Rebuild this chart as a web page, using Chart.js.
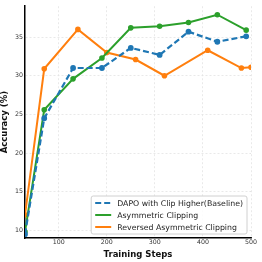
<!DOCTYPE html>
<html>
<head>
<meta charset="utf-8">
<script src="https://cdn.jsdelivr.net/npm/chart.js@4"></script>
<style>
  html, body { margin: 0; padding: 0; background: #fff; }
  #wrap { width: 262px; height: 262px; }
</style>
</head>
<body>
<div id="wrap"><canvas id="accChart" width="262" height="262"></canvas></div>
<script>
  // values
  const steps = [30, 70, 130, 190, 250, 310, 370, 430, 490];
  const baselineAcc = [9.5, 24.5, 31.0, 31.0, 33.6, 32.7, 35.7, 34.4, 35.1];
  const asymAcc = [9.8, 25.6, 29.6, 32.3, 36.2, 36.4, 36.9, 37.9, 35.9];
  const reversedSteps = [30, 70, 140, 200, 260, 320, 410, 480, 500];
  const reversedAcc = [12.0, 30.9, 36.0, 33.0, 32.1, 30.0, 33.3, 31.0, 31.1];
  const xTicks = [100, 200, 300, 400, 500];
  const yTicks = [10, 15, 20, 25, 30, 35];

  const toXY = (xs, ys) => xs.map((x, i) => ({ x: x, y: ys[i] }));
  const FONT = "'DejaVu Sans', sans-serif";

  // legend drawn inside the plot, bottom right, like matplotlib's
  const boxLegend = {
    id: "boxLegend",
    afterDatasetsDraw(chart) {
      const ctx = chart.ctx;
      const area = chart.chartArea;
      const sets = chart.data.datasets;
      ctx.save();
      ctx.font = "7.8px " + FONT;
      let textW = 0;
      sets.forEach(d => { textW = Math.max(textW, ctx.measureText(d.label).width); });
      const rowH = 12, lineW = 16, pad = 4, gap = 6;
      const w = pad + lineW + gap + textW + pad;
      const h = rowH * sets.length + 2;
      const x0 = area.right - 4 - w;
      const y0 = area.bottom - 4 - h;
      ctx.beginPath();
      ctx.roundRect(x0, y0, w, h, 2);
      ctx.fillStyle = "rgba(255,255,255,0.85)";
      ctx.fill();
      ctx.strokeStyle = "#d0d0d0";
      ctx.lineWidth = 1;
      ctx.stroke();
      sets.forEach((d, i) => {
        const cy = y0 + 1 + rowH * i + rowH / 2;
        ctx.beginPath();
        ctx.setLineDash(d.borderDash || []);
        ctx.strokeStyle = d.borderColor;
        ctx.lineWidth = 2;
        ctx.moveTo(x0 + pad, cy);
        ctx.lineTo(x0 + pad + lineW, cy);
        ctx.stroke();
        ctx.setLineDash([]);
        ctx.fillStyle = "#222";
        ctx.textBaseline = "middle";
        ctx.textAlign = "left";
        ctx.fillText(d.label, x0 + pad + lineW + gap, cy + 0.5);
      });
      ctx.restore();
    }
  };

  new Chart(document.getElementById("accChart"), {
    type: "line",
    data: {
      datasets: [{
        label: "DAPO with Clip Higher(Baseline)",
        data: toXY(steps, baselineAcc),
        borderColor: "#1f77b4",
        backgroundColor: "#1f77b4",
        borderDash: [6, 3],
        borderWidth: 2.2,
        pointRadius: 1.8
      }, {
        label: "Asymmetric Clipping",
        data: toXY(steps, asymAcc),
        borderColor: "#2ca02c",
        backgroundColor: "#2ca02c",
        borderWidth: 2,
        pointRadius: 1.8
      }, {
        label: "Reversed Asymmetric Clipping",
        data: toXY(reversedSteps, reversedAcc),
        borderColor: "#ff7f0e",
        backgroundColor: "#ff7f0e",
        borderWidth: 2,
        pointRadius: 1.8
      }]
    },
    options: {
      responsive: false,
      animation: false,
      layout: { padding: { left: 0, right: 11, top: 4, bottom: 0 } },
      plugins: {
        legend: { display: false },
        tooltip: { enabled: false }
      },
      scales: {
        x: {
          type: "linear",
          min: 30,
          max: 500,
          afterBuildTicks: s => { s.ticks = xTicks.map(v => ({ value: v })); },
          afterFit: s => { s.height = 24; },
          ticks: { padding: 1, color: "#333", font: { family: FONT, size: 6.3 } },
          grid: { color: "#e4e4e4", lineWidth: 0.8, drawTicks: false },
          border: { color: "#000", width: 1.5, dash: [2, 2] },
          title: {
            display: true, text: "Training Steps", color: "#111",
            padding: { top: 0, bottom: 2 },
            font: { family: FONT, size: 8.5, weight: "bold" }
          }
        },
        y: {
          min: 9,
          max: 39,
          afterBuildTicks: s => { s.ticks = yTicks.map(v => ({ value: v })); },
          afterFit: s => { s.width = 25; },
          ticks: { padding: 2, color: "#333", font: { family: FONT, size: 6.3 } },
          grid: { color: "#e4e4e4", lineWidth: 0.8, drawTicks: false },
          border: { color: "#000", width: 1.5, dash: [2, 2] },
          title: {
            display: true, text: "Accuracy (%)", color: "#111",
            padding: { top: 0, bottom: 0 },
            font: { family: FONT, size: 8.5, weight: "bold" }
          }
        }
      }
    },
    plugins: [boxLegend]
  });
</script>
</body>
</html>
